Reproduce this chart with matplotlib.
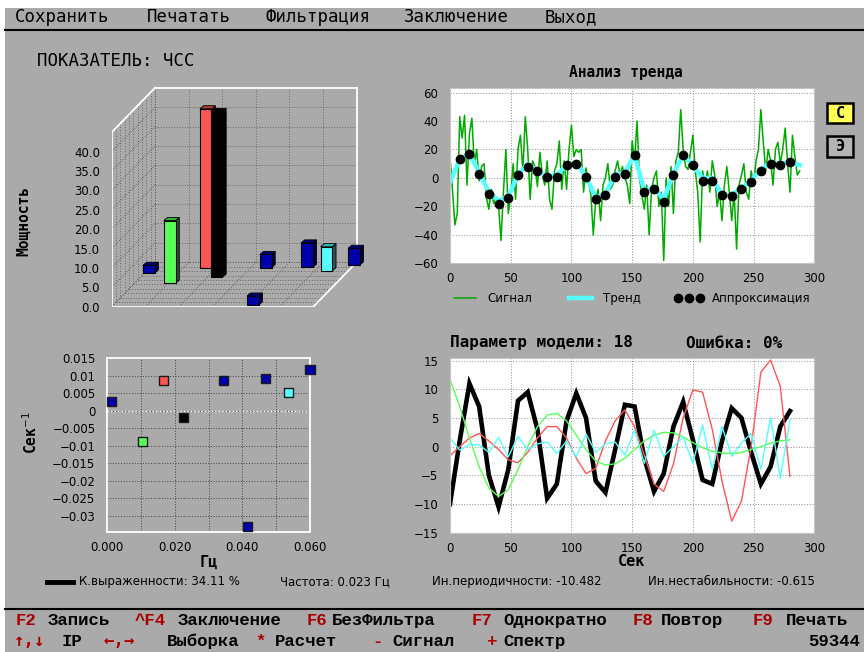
import numpy as np
import matplotlib
matplotlib.use("Agg")
from matplotlib import pyplot as plt
from matplotlib.patches import Rectangle, Polygon
from matplotlib.lines import Line2D
from matplotlib.colors import to_rgb

W, H = 864, 652

BG = "#AAAAAA"
BLUE = "#0000AA"
LGREEN = "#55FF55"
LRED = "#FF5555"
LCYAN = "#55FFFF"
GREEN = "#00AA00"
DRED = "#AA0000"

# spectral components: frequency (Hz), damping (1/s), power
comp_freq = [0.0013, 0.0105, 0.0167, 0.0227, 0.0345, 0.0415, 0.0467, 0.0535, 0.0600]
comp_damp = [0.0027, -0.0088, 0.0088, -0.0020, 0.0088, -0.0331, 0.0091, 0.0053, 0.0118]
comp_power = [2.0, 16.2, 41.0, 42.8, 3.4, 2.3, 6.3, 6.2, 4.3]
comp_color = [BLUE, LGREEN, LRED, "#000000", BLUE, BLUE, BLUE, LCYAN, BLUE]

# trend analysis (signal every 2 s)
signal_t = np.arange(0, 289, 2)
signal_vals = [
    15, -8, -33, -25, 43, 28, 44, -5,
    31, 42, 10, 20, -2, 8, 10, -14,
    -22, -8, -18, -14, -20, -44, -10, 20,
    -25, -12, 10, -15, 20, 30, 5, 43,
    20, -15, 12, 8, -6, 18, 2, -5,
    12, -15, -22, 5, 10, 26, -8, 12,
    -8, 20, 37, 15, 20, 18, 20, -10,
    7, -2, -12, -40, -15, -8, -30, -5,
    0, 10, -8, -5, 5, 12, 2, 8,
    0, -5, -18, 26, 12, 40, 0, -12,
    -22, -5, -40, -8, 0, 5, -20, -10,
    -58, 0, -20, 8, -25, 12, 18, 48,
    20, 8, 6, 18, 30, 5, -10, -45,
    5, -5, 5, -10, 12, 2, -20, -10,
    -30, -5, 8, -10, -30, -10, -50, -5,
    2, 10, -10, -15, 5, -5, 12, 20,
    48, 25, 5, 20, 12, -5, 20, 25,
    10, 20, 35, 10, -10, 30, 15, 2,
    5,
]
trend_t = np.arange(0, 289, 8)
trend_vals = [-3, 13, 17, 4, -10, -16, -13, 2, 10, 5, 1, 2, 9, 11, 1, -14, -11, 2, 4,
              16, -9, -7, -15, 3, 16, 9, 0, 0, -12, -12, -7, -2, 6, 11, 10, 11, 9]
approx_t = np.arange(8, 281, 8)
approx_vals = [13, 17, 3, -11, -18, -14, 2, 8, 5, 1, 1, 9, 10, 1, -15, -12, 1, 3, 16,
               -10, -8, -17, 2, 16, 9, -2, -2, -12, -13, -8, -3, 5, 10, 9, 11]

# model components (every 8 s)
model_t = np.arange(0, 281, 8)
black_vals = [-10, 1, 11, 7, -5, -10.5, -4, 8, 9.5, 3, -9, -6.5, 4.5, 9.3, 5, -6, -8, -0.5,
              7.3, 7, -2, -7.8, -4.7, 3.5, 7.8, 1.2, -5.8, -6.5, 1, 6.7, 5, -1, -6.5, -3.5, 3.5, 6.2]
red_vals = [-1.6, 0, 1.5, 2.3, 1, -0.5, -2.3, -2.8, -1, 1.5, 3.5, 3.5, 1.5, -2, -4.7, -3.8, 1, 4.5,
            6.4, 3.5, -1.5, -6.5, -7.8, -3, 5, 9.9, 9.5, 3, -6, -13, -9.5, 0, 13, 15.1, 10.5, -5.2]
green_vals = [11.7, 7, 1.5, -3.5, -7.2, -8.7, -7.5, -4, 0, 3.5, 5.5, 5.8, 4.5, 2, -0.5, -2.5, -3.2, -3,
              -2, -0.5, 1, 2, 2.5, 2.4, 1.7, 0.7, -0.2, -0.8, -1.1, -1.2, -1, -0.5, 0, 0.6, 1, 1.2]
cyan_vals = [1.5, -0.6, 0.4, 0.3, -1, 1.6, -1.8, 1.8, -0.5, 0.5, 0.8, -1.2, 1, -1.8, 2.2, -1, 0.5, 0.8,
             -1.5, 2.9, -2.9, 2.9, -1.7, 0, 1.7, -2.9, 3.8, -4, 3.5, -1.7, 0.6, 2.3, -4, 5.1, -5.5, 4.7]

scat_yticks = [0.015, 0.01, 0.005, 0, -0.005, -0.01, -0.015, -0.02, -0.025, -0.03]
scat_ylabels = ["0.015", "0.01", "0.005", "0", "\u22120.005", "\u22120.01", "\u22120.015",
                "\u22120.02", "\u22120.025", "\u22120.03"]

menu_items = [(15, "Сохранить"), (147, "Печатать"), (265, "Фильтрация"), (404, "Заключение"), (545, "Выход")]
keys_line1 = [(16, "F2", DRED), (48, "Запись", "k"), (135, "^F4", DRED), (178, "Заключение", "k"),
              (307, "F6", DRED), (332, "БезФильтра", "k"), (472, "F7", DRED), (503, "Однократно", "k"),
              (633, "F8", DRED), (661, "Повтор", "k"), (753, "F9", DRED), (786, "Печать", "k")]
keys_line2 = [(14, "↑,↓", DRED), (62, "IP", "k"), (103, "←,→", DRED), (167, "Выборка", "k"),
              (255, "*", DRED), (275, "Расчет", "k"), (372, "-", DRED), (392, "Сигнал", "k"),
              (486, "+", DRED), (503, "Спектр", "k")]

MONO = ["DejaVu Sans Mono"]
KEYF = ["Liberation Mono", "DejaVu Sans Mono"]
SANS = ["DejaVu Sans"]

fig = plt.figure(figsize=(W / 100, H / 100), dpi=100, facecolor=BG)


def fx(x):
    return x / W


def fy(y):
    return 1 - y / H


def add_ax(l, t, r, b):
    return fig.add_axes([l / W, 1 - b / H, (r - l) / W, (b - t) / H])


def ftext(x, y, s, **kw):
    kw.setdefault("va", "center")
    return fig.text(fx(x), fy(y), s, **kw)


def fline(x0, x1, y0, y1, **kw):
    fig.add_artist(Line2D([fx(x0), fx(x1)], [fy(y0), fy(y1)], transform=fig.transFigure, **kw))


# white screen margins
fig.add_artist(Rectangle((0, fy(8)), 1, 8 / H, transform=fig.transFigure, color="white", lw=0))
fig.add_artist(Rectangle((0, 0), 5 / W, 1, transform=fig.transFigure, color="white", lw=0))

# menu
for x, s in menu_items:
    ftext(x, 17, s, family=MONO, size=12.5)
fline(5, 864, 30, 30, color="black", lw=1.5)
ftext(37, 61.5, "ПОКАЗАТЕЛЬ: ЧСС", family=MONO, size=12.5)

# ---------------- 3D spectrum bars (oblique projection) ----------------
F_MAX, D_MIN, D_MAX, ZTOP = 0.06, -0.035, 0.015, 45
DX, DY = 0.0129, 11.5
BW, SX, SY = 0.0035, 0.0011, 0.8
ax3 = add_ax(111.7, 80, 370, 306.7)
ax3.set_xlim(0, (370 - 111.7) / 3361)
ax3.set_ylim(0, (306.7 - 80) / 3.875)
ax3.set_frame_on(False)
ax3.set_facecolor("none")
ax3.set_xticks([])
ax3.set_yticks(np.arange(0, 41, 5))
ax3.set_yticklabels([f"{v:.1f}" for v in np.arange(0, 41, 5)])
ax3.tick_params(axis="y", length=0, pad=8.4, labelsize=8.5)

gkw = dict(color="#505050", lw=0.6, ls=(0, (1, 2.2)), zorder=1)
for z in range(0, 41, 5):
    ax3.plot([DX, F_MAX + DX], [DY + z, DY + z], **gkw)          # back wall
    ax3.plot([0, DX], [z, DY + z], **gkw)                       # left wall
for f in np.arange(0, 0.051, 0.01):
    ax3.plot([f + DX, f + DX], [DY, DY + ZTOP], **gkw)           # back wall
    ax3.plot([f, f + DX], [0, DY], **gkw)                        # floor
for k in range(1, 11):
    t = k / 10
    ax3.plot([t * DX, F_MAX + t * DX], [t * DY, t * DY], **gkw)  # floor
    ax3.plot([t * DX, t * DX], [t * DY, t * DY + ZTOP], **gkw)   # left wall
wkw = dict(color="white", lw=1.3, zorder=2)
ax3.plot([0, F_MAX], [0, 0], **wkw)
ax3.plot([F_MAX, F_MAX + DX], [0, DY], **wkw)
ax3.plot([F_MAX + DX, F_MAX + DX], [DY, DY + ZTOP], **wkw)
ax3.plot([DX, F_MAX + DX], [DY + ZTOP, DY + ZTOP], **wkw)
ax3.plot([0, DX], [ZTOP, DY + ZTOP], **wkw)
ax3.plot([0, 0], [0, ZTOP], **wkw)

order = np.argsort(comp_damp)[::-1]
for i in order:
    t = (comp_damp[i] - D_MIN) / (D_MAX - D_MIN)
    x0 = comp_freq[i] - BW / 2 + t * DX
    y0 = t * DY
    h = comp_power[i]
    c = np.array(to_rgb(comp_color[i]))
    zo = 3 + (1 - t)
    ax3.add_patch(Polygon([(x0 + BW, y0), (x0 + BW + SX, y0 + SY), (x0 + BW + SX, y0 + h + SY),
                           (x0 + BW, y0 + h)], closed=True, fc=c * 0.35, ec="black", lw=0.6,
                          zorder=zo, clip_on=False))
    ax3.add_patch(Polygon([(x0, y0 + h), (x0 + SX, y0 + h + SY), (x0 + BW + SX, y0 + h + SY),
                           (x0 + BW, y0 + h)], closed=True, fc=c * 0.7, ec="black", lw=0.6,
                          zorder=zo, clip_on=False))
    ax3.add_patch(Rectangle((x0, y0), BW, h, fc=c, ec="black", lw=0.8, zorder=zo, clip_on=False))

ftext(24, 221, "Мощность", family=MONO, size=10.5, weight="bold", rotation=90, ha="center")

# ---------------- trend analysis ----------------
axt = add_ax(450, 88.3, 814.3, 263.3)
axt.plot(signal_t, signal_vals, color=GREEN, lw=1.1, label="Сигнал")
axt.plot(trend_t, trend_vals, color=LCYAN, lw=3.2, label="Тренд")
axt.plot(approx_t, approx_vals, "o", color="black", ms=6, label="Аппроксимация")
axt.set_xlim(0, 300)
axt.set_ylim(-60, 63)
axt.set_xticks(np.arange(0, 301, 50))
axt.set_yticks(np.arange(-60, 61, 20))
axt.legend(loc="upper left", bbox_to_anchor=(0, -0.165), ncol=3, frameon=False, numpoints=3,
           handlelength=2.5, handletextpad=0.7, columnspacing=2.8, borderpad=0, borderaxespad=0,
           prop=dict(family=SANS, size=8.5))
ftext(626, 73, "Анализ тренда", family=MONO, size=10.5, weight="bold", ha="center")

# buttons
for y0, y1, s, c in [(103, 123, "С", "#FFFF55"), (136, 157, "Э", "#B4B4B4")]:
    fig.add_artist(Rectangle((fx(827), fy(y1)), 26 / W, (y1 - y0) / H, transform=fig.transFigure,
                             fc=c, ec="black", lw=1.8))
    ftext(840, (y0 + y1) / 2, s, family=MONO, size=11, weight="bold", ha="center")

# ---------------- scatter: frequency vs damping ----------------
axs = add_ax(107.3, 358.3, 310, 532.3)
axs.set_facecolor(BG)
axs.set_xlim(0, 0.06)
axs.set_ylim(-0.0347, 0.015)
axs.set_xticks(np.arange(0, 0.0601, 0.01))
axs.set_xticklabels(["0.000", "", "0.020", "", "0.040", "", "0.060"])
axs.set_yticks(scat_yticks)
axs.set_yticklabels(scat_ylabels)
axs.grid(True, color="#404040", lw=0.7, ls=(0, (1, 1.8)))
axs.axhline(0, color="white", lw=1.0, ls=(0, (1, 1.5)), zorder=1.5)
axs.scatter(comp_freq, comp_damp, marker="s", s=42, c=comp_color, edgecolors="#1a1a1a",
            linewidths=1.0, zorder=3, clip_on=False)
for sp in axs.spines.values():
    sp.set_color("white")
    sp.set_linewidth(1.3)
ftext(208.5, 562, "Гц", family=MONO, size=11, weight="bold", ha="center")
ftext(31, 433, "Сек$^{-1}$", family=MONO, size=10.5, weight="bold", rotation=90, ha="center")

# ---------------- model components ----------------
axm = add_ax(450, 358.3, 814.3, 532.7)
axm.plot(model_t, black_vals, color="black", lw=3.3, solid_joinstyle="miter")
axm.plot(model_t, red_vals, color=LRED, lw=1.0)
axm.plot(model_t, green_vals, color=LGREEN, lw=1.0)
axm.plot(model_t, cyan_vals, color=LCYAN, lw=1.0)
axm.set_xlim(0, 300)
axm.set_ylim(-15, 15.4)
axm.set_xticks(np.arange(0, 301, 50))
axm.set_yticks(np.arange(-15, 16, 5))
ftext(632, 561, "Сек", family=MONO, size=11, weight="bold", ha="center")
ftext(450, 343, "Параметр модели: 18", family=MONO, size=11.5, weight="bold")
ftext(686, 343, "Ошибка: 0%", family=MONO, size=11.5, weight="bold")

for ax in (axt, axm):
    ax.set_facecolor("white")
    ax.grid(True, color="#8c8c8c", lw=0.7, ls=(0, (1, 1.8)))
    for sp in ax.spines.values():
        sp.set_color("#c4c4c4")
for ax in (axt, axm, axs):
    ax.set_axisbelow(True)
    ax.tick_params(length=0, labelsize=8.5)
    ax.tick_params(axis="y", pad=8.5)
    ax.tick_params(axis="x", pad=6.5)
    for lab in ax.get_xticklabels() + ax.get_yticklabels():
        lab.set_family(SANS)

# stats line
fline(46.7, 73.3, 581.7, 581.7, color="black", lw=3.5)
ftext(79, 581.7, "К.выраженности: 34.11 %", family=SANS, size=8.5)
ftext(280, 581.7, "Частота: 0.023 Гц", family=SANS, size=8.5)
ftext(432, 581.7, "Ин.периодичности: -10.482", family=SANS, size=8.5)
ftext(648, 581.7, "Ин.нестабильности: -0.615", family=SANS, size=8.5)

# key bar
fline(5, 864, 609, 609, color="black", lw=1.5)
for x, s, c in keys_line1:
    ftext(x, 620.5, s, family=KEYF, size=12.5, weight="bold", color=c)
for x, s, c in keys_line2:
    fam = MONO if ("↑" in s or "←" in s) else KEYF
    ftext(x, 641.5, s, family=fam, size=12.5, weight="bold", color=c)
ftext(860, 641.5, "59344", family=KEYF, size=12.5, weight="bold", ha="right")

fig.savefig("out.png", dpi=100, facecolor=BG)
